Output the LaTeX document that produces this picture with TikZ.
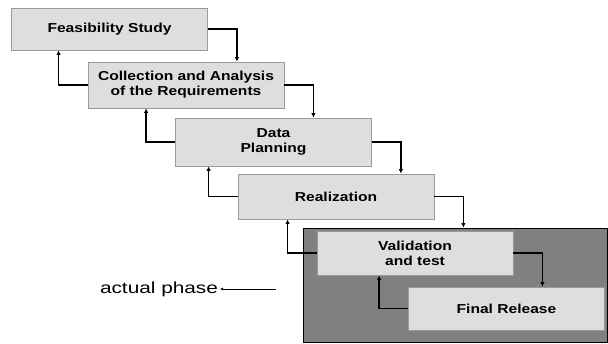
\documentclass[tikz,border=0pt]{standalone}
\usepackage{fontspec}
\setmainfont{Liberation Sans}
\newfontfamily\phasefont[FakeStretch=1.2]{Liberation Sans}
\newfontfamily\notefont[FakeStretch=1.3]{Liberation Sans}
\usetikzlibrary{positioning,arrows.meta,calc}
\definecolor{phasefill}{HTML}{DEDEDE}
\definecolor{phaseline}{HTML}{9A9A9A}
\definecolor{currfill}{HTML}{808080}
\tikzset{
  phase/.style ={rectangle, draw=phaseline, fill=phasefill, line width=0.8pt,
                 minimum width=196pt, align=center, inner sep=2pt,
                 font=\phasefont\bfseries\fontsize{13}{15}\selectfont},
  current/.style={rectangle, draw=black, fill=currfill, line width=0.8pt,
                 minimum width=304pt, minimum height=114pt, inner sep=0pt},
  % forward and backward steps of the waterfall
  flow/.style  ={draw=black, line width=1.3pt, -{Latex[length=4.5pt,width=4.5pt]}},
  pointer/.style={draw=black, line width=0.5pt, -{Latex[length=3pt,width=3pt]}},
}
\begin{document}
\begin{tikzpicture}[x=1pt,y=-1pt]
\useasboundingbox (0,0) rectangle (608,343);
% --- the phase that is running now ---
\node[current] (cur) at (455,285) {};
% --- the phases ---
\node[phase,minimum height=42pt] (feas) at (109.5,29)  {Feasibility Study};
\node[phase,minimum height=46pt] (coll) at (186,85)    {Collection and Analysis\\of the Requirements};
\node[phase,minimum height=48pt] (plan) at (273.5,142) {Data\\Planning};
\node[phase,minimum height=45pt] (real) at (336,196.5) {Realization};
\node[phase,minimum height=44pt] (vali) at (415,253)   {Validation\\and test};
\node[phase,minimum height=43pt] (rele) at (506.5,308.5) {Final Release};
% --- steps down ---
\foreach \a/\b in {feas/coll, coll/plan, plan/real, real/cur, vali/rele}
  {\draw[flow] (\a.east) -- ++(29,0) coordinate (tmp) -- (tmp |- \b.north);}
% --- steps back ---
\foreach \a/\b in {feas/coll, coll/plan, plan/real, real/vali, vali/rele}
  {\draw[flow] (\b.west) -- ++(-29,0) coordinate (tmp) -- (tmp |- \a.south);}
% --- label ---
\node[font=\notefont\fontsize{16}{19}\selectfont, inner sep=2pt] (note) at (159,289) {actual phase};
\coordinate (noteend) at (276,289);
\draw[pointer] (noteend) -- (note.east);
\end{tikzpicture}
\end{document}
